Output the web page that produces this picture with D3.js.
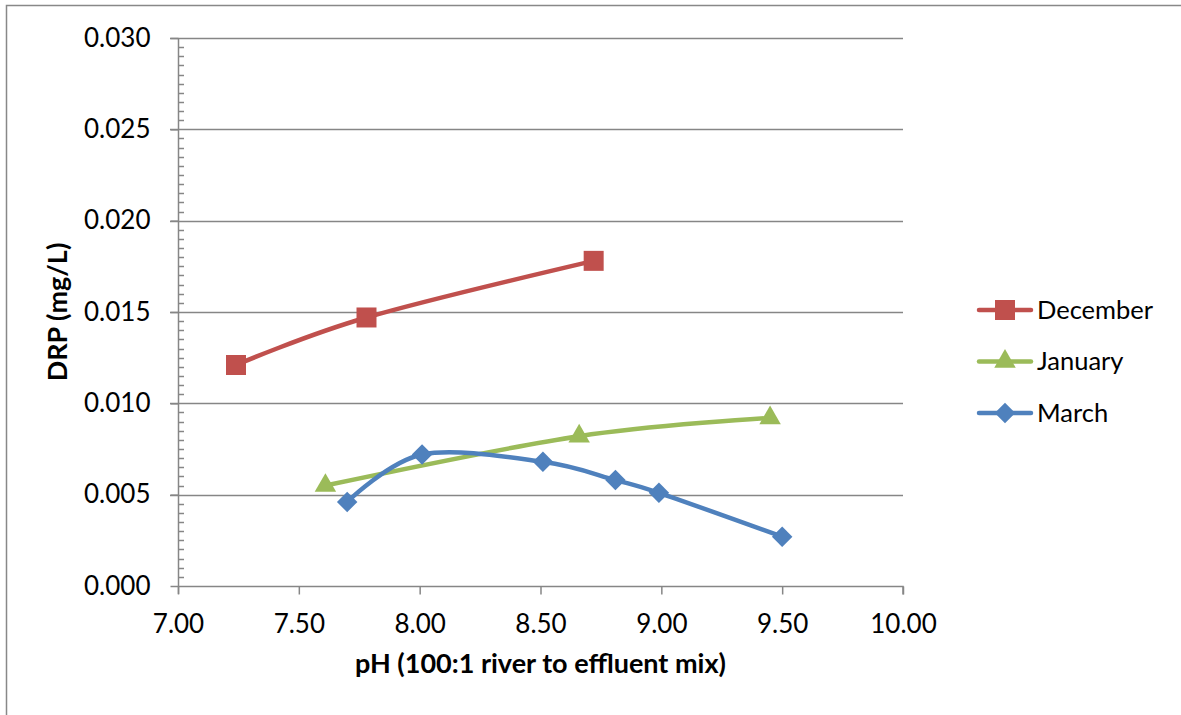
<!DOCTYPE html>
<html>
<head>
<meta charset="utf-8">
<script src="https://cdn.jsdelivr.net/npm/d3@7"></script>
<style>
  html, body { margin: 0; padding: 0; background: #fff; }
  text { font-family: Lato, "Open Sans", sans-serif; fill: #000; }
</style>
</head>
<body>
<div id="chart"></div>
<script>
const seriesNames = ["December", "January", "March"];
const decemberPH = [7.24, 7.78, 8.72];
const decemberDRP = [0.0121, 0.0147, 0.0178];
const januaryPH = [7.61, 8.66, 9.45];
const januaryDRP = [0.0055, 0.0082, 0.0092];
const marchPH = [7.70, 8.01, 8.51, 8.81, 8.99, 9.50];
const marchDRP = [0.0046, 0.0072, 0.0068, 0.0058, 0.0051, 0.0027];
const xTicks = [7.0, 7.5, 8.0, 8.5, 9.0, 9.5, 10.0];
const yTicks = [0, 0.005, 0.010, 0.015, 0.020, 0.025, 0.030];

const colors = { December: "#c0504d", January: "#9bbb59", March: "#4f81bd" };
const shapes = { December: d3.symbolSquare, January: d3.symbolTriangle, March: d3.symbolSquare };
const sizes = { December: 400, January: 200, March: 210 };
const turns = { December: 0, January: 0, March: 45 };

const series = [
  { name: "December", pts: decemberPH.map((x, i) => ({ x, y: decemberDRP[i] })) },
  { name: "January", pts: januaryPH.map((x, i) => ({ x, y: januaryDRP[i] })) },
  { name: "March", pts: marchPH.map((x, i) => ({ x, y: marchDRP[i] })) }
];

const W = 1181, H = 715;
const svg = d3.select("#chart").append("svg")
  .attr("width", W).attr("height", H);

// outer chart frame
svg.append("rect")
  .attr("x", 6.5).attr("y", 5.5)
  .attr("width", W + 10).attr("height", H + 10)
  .attr("fill", "none").attr("stroke", "#888").attr("stroke-width", 1.5);

const x = d3.scaleLinear().domain([7, 10]).range([178, 903]);
const y = d3.scaleLinear().domain([0, 0.03]).range([586, 38]);

// gridlines
svg.append("g").selectAll("line")
  .data(yTicks.slice(1))
  .join("line")
  .attr("x1", x(7) - 8).attr("x2", x(10))
  .attr("y1", d => Math.round(y(d)) + 0.5).attr("y2", d => Math.round(y(d)) + 0.5)
  .attr("stroke", "#868686").attr("stroke-width", 1.5);

// minor ticks on y axis
const minor = d3.range(1, 60).filter(i => i % 10 !== 0).map(i => i * 0.0005);
svg.append("g").selectAll("line")
  .data(minor)
  .join("line")
  .attr("x1", x(7)).attr("x2", x(7) + 6)
  .attr("y1", d => Math.round(y(d)) + 0.5).attr("y2", d => Math.round(y(d)) + 0.5)
  .attr("stroke", "#868686").attr("stroke-width", 1.5);

// y axis
const yAxis = svg.append("g")
  .attr("transform", `translate(${x(7) + 0.5},0)`)
  .call(d3.axisLeft(y).tickValues(yTicks).tickFormat(d3.format(".3f")).tickSize(8).tickPadding(20));
yAxis.select(".domain").attr("d", `M0,${y(0.03)}V${y(0) + 8}`);
yAxis.selectAll("line, .domain").attr("stroke", "#868686").attr("stroke-width", 1.5);
yAxis.selectAll("text").style("font-size", "26px").attr("fill", "#000");

// x axis
const xAxis = svg.append("g")
  .attr("transform", `translate(0,${Math.round(y(0)) + 0.5})`)
  .call(d3.axisBottom(x).tickValues(xTicks).tickFormat(d3.format(".2f")).tickSize(8).tickPadding(20));
xAxis.select(".domain").attr("d", `M${x(7)},0H${x(10)}V8`);
xAxis.selectAll("line, .domain").attr("stroke", "#868686").attr("stroke-width", 1.5);
xAxis.selectAll("text").style("font-size", "26px").attr("fill", "#000");

// axis titles
svg.append("text")
  .attr("x", (x(7) + x(10)) / 2).attr("y", 673)
  .attr("text-anchor", "middle")
  .style("font-size", "27px").style("font-weight", "bold")
  .text("pH (100:1 river to effluent mix)");

svg.append("text")
  .attr("transform", `translate(67,${(y(0) + y(0.03)) / 2}) rotate(-90)`)
  .attr("text-anchor", "middle")
  .style("font-size", "27px").style("font-weight", "bold")
  .text("DRP (mg/L)");

// lines
const line = d3.line()
  .x(d => x(d.x)).y(d => y(d.y))
  .curve(d3.curveCatmullRom.alpha(0));

series.forEach(s => {
  svg.append("path")
    .datum(s.pts)
    .attr("d", line)
    .attr("fill", "none")
    .attr("stroke", colors[s.name])
    .attr("stroke-width", 4.5)
    .attr("stroke-linecap", "round");

  svg.append("g").selectAll("path")
    .data(s.pts)
    .join("path")
    .attr("transform", d => `translate(${x(d.x)},${y(d.y)}) rotate(${turns[s.name]})`)
    .attr("d", d3.symbol().type(shapes[s.name]).size(sizes[s.name]))
    .attr("fill", colors[s.name]);
});

// legend
const legend = svg.append("g");
seriesNames.forEach((name, i) => {
  const ly = 310 + i * 51.5;
  legend.append("line")
    .attr("x1", 979).attr("x2", 1031)
    .attr("y1", ly).attr("y2", ly)
    .attr("stroke", colors[name]).attr("stroke-width", 4.5)
    .attr("stroke-linecap", "round");
  legend.append("path")
    .attr("transform", `translate(1005,${ly}) rotate(${turns[name]})`)
    .attr("d", d3.symbol().type(shapes[name]).size(sizes[name]))
    .attr("fill", colors[name]);
  legend.append("text")
    .attr("x", 1037).attr("y", ly)
    .attr("dy", "0.35em")
    .style("font-size", "25.5px")
    .text(name);
});
</script>
</body>
</html>
